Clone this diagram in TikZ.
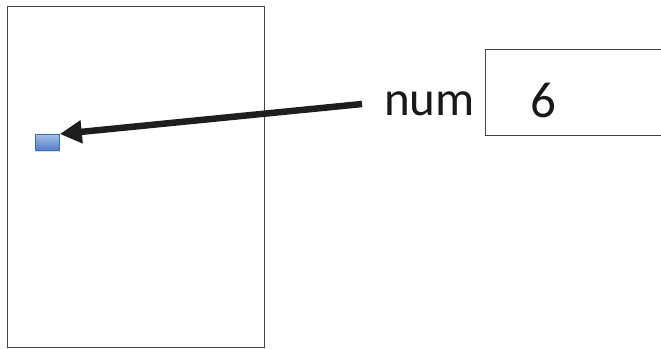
\documentclass[tikz,border=0pt]{standalone}
\usepackage{fontspec}
\setmainfont{Carlito}
\usetikzlibrary{arrows.meta,shadows}
\definecolor{framegray}{HTML}{444444}
\definecolor{cellborder}{HTML}{3E6DB5}
\definecolor{celltop}{HTML}{A3BEE8}
\definecolor{cellbottom}{HTML}{4F7FC8}
\definecolor{pointer}{HTML}{1E1E1E}
\tikzset{
  frame/.style={draw=framegray, line width=1pt},
  cellbox/.style={draw=cellborder, line width=0.8pt, top color=celltop, bottom color=cellbottom,
    drop shadow={shadow xshift=0.6pt, shadow yshift=-1.2pt, opacity=0.25}},
  bigtext/.style={inner sep=0pt, font=\fontsize{49}{54}\selectfont, text=black!90},
  pointerline/.style={draw=pointer, line width=6.5pt, -{Triangle[length=22pt,width=22pt]}}
}
\begin{document}
\begin{tikzpicture}[x=1pt,y=-1pt]
  \useasboundingbox (0,0) rectangle (661,348);
  % memory area
  \draw[frame] (7,6) rectangle (264,347);
  % value box, running off to the right
  \draw[frame] (485,49) -- (668,49) (485,49) -- (485,135) -- (668,135);
  % storage cell inside memory
  \node[cellbox, minimum width=24pt, minimum height=16pt, inner sep=0pt, anchor=north west] (cell) at (35,134) {};
  % variable name and value
  \node[bigtext, anchor=base west] (name) at (384,115) {num};
  \node[bigtext, font=\fontsize{51}{56}\selectfont, anchor=base] (val) at (543,117) {6};
  \coordinate (src) at (362,104);
  \draw[pointerline] (src) -- (cell.north east);
\end{tikzpicture}
\end{document}
